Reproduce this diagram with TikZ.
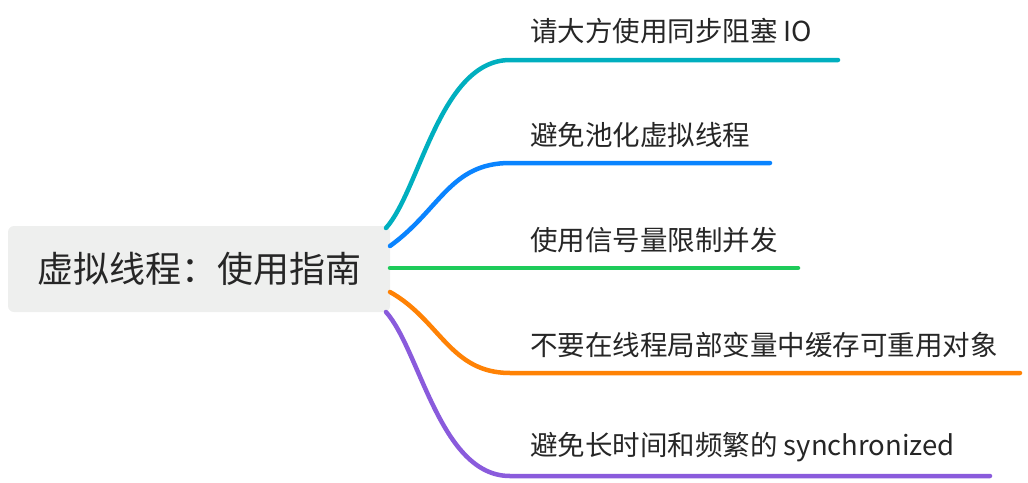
\documentclass[tikz,border=0pt]{standalone}
\usepackage{fontspec}
\setmainfont{Noto Sans CJK SC}
\definecolor{cA}{HTML}{00AFBF}
\definecolor{cB}{HTML}{0A84FF}
\definecolor{cC}{HTML}{1ECB5A}
\definecolor{cD}{HTML}{FF8205}
\definecolor{cE}{HTML}{8A5BDC}
\definecolor{rootbg}{HTML}{EEEFEE}
\tikzset{br/.style={line width=4.5pt,line cap=round},
 lbl/.style={anchor=west,inner sep=0pt,font=\fontsize{27.5}{32}\selectfont,text=black!85}}
\begin{document}
\begin{tikzpicture}[x=1pt,y=-1pt]
\useasboundingbox (0,0) rectangle (1028,482);
\node[fill=rootbg,rounded corners=6pt,minimum width=382pt,minimum height=86pt,inner sep=0pt,font=\fontsize{36}{40}\selectfont,text=black!85] (root) at (199,269) {虚拟线程：使用指南};
\coordinate (s1) at (386,228); \coordinate (e1) at (510,60); \coordinate (f1) at (838,60);
\coordinate (s2) at (390,246); \coordinate (e2) at (510,163); \coordinate (f2) at (770,163);
\coordinate (s3) at (390,268); \coordinate (f3) at (798,268);
\coordinate (s4) at (390,292); \coordinate (e4) at (510,373); \coordinate (f4) at (1020,373);
\coordinate (s5) at (386,312); \coordinate (e5) at (510,476); \coordinate (f5) at (990,476);
\draw[br,cA] (s1) .. controls (420,190) and (440,60) .. (e1) -- (f1);
\draw[br,cB] (s2) .. controls (440,210) and (450,163) .. (e2) -- (f2);
\draw[br,cC] (s3) -- (f3);
\draw[br,cD] (s4) .. controls (440,320) and (450,373) .. (e4) -- (f4);
\draw[br,cE] (s5) .. controls (420,350) and (440,476) .. (e5) -- (f5);
\node[lbl] (t1) at (530,31) {请大方使用同步阻塞 IO};
\node[lbl] (t2) at (530,135) {避免池化虚拟线程};
\node[lbl] (t3) at (530,240) {使用信号量限制并发};
\node[lbl] (t4) at (530,345) {不要在线程局部变量中缓存可重用对象};
\node[lbl] (t5) at (530,447) {避免长时间和频繁的 synchronized};
\end{tikzpicture}
\end{document}
